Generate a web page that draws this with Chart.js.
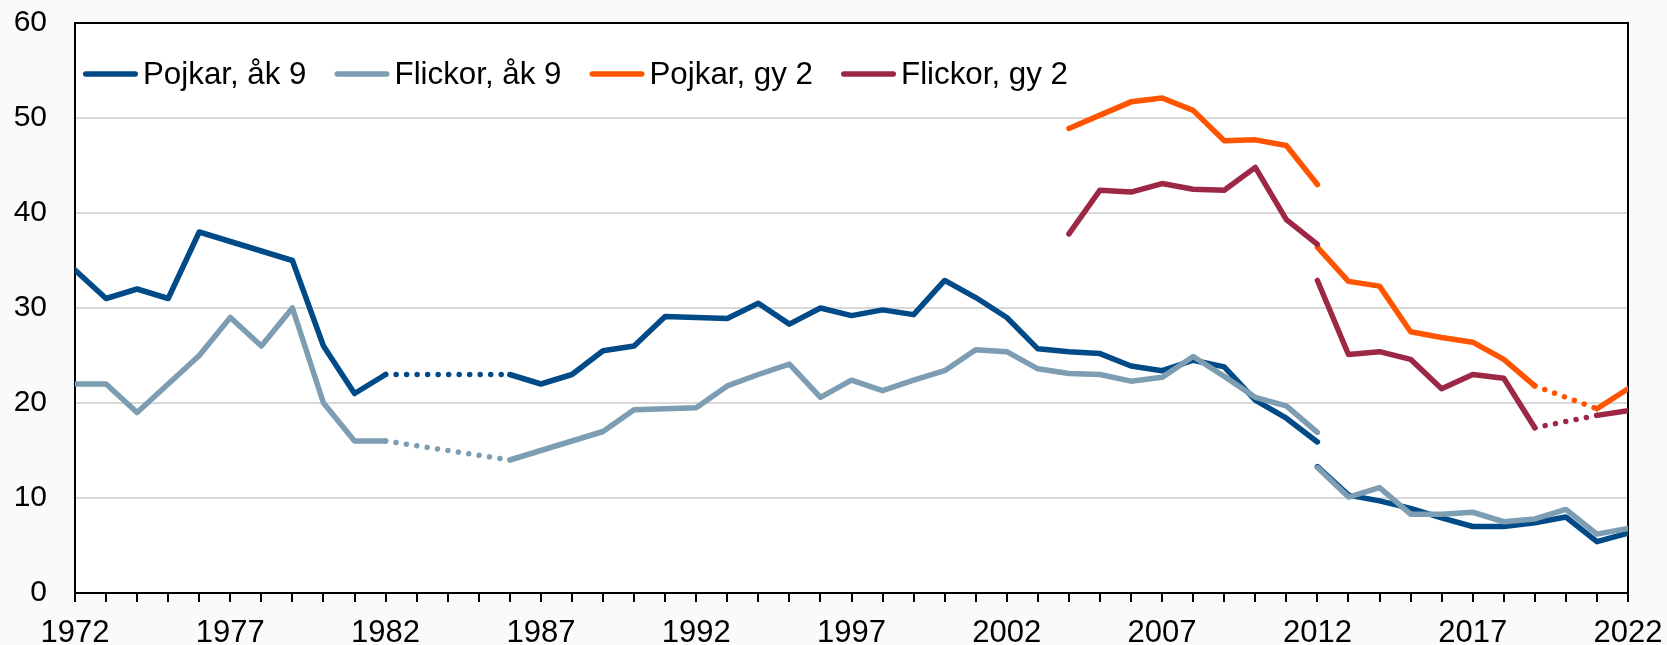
<!DOCTYPE html>
<html>
<head>
<meta charset="utf-8">
<script src="https://cdn.jsdelivr.net/npm/chart.js@4.4.0/dist/chart.umd.min.js"></script>
<style>
  html, body { margin: 0; padding: 0; background: #fafafa; }
  #wrap { width: 1667px; height: 645px; }
</style>
</head>
<body>
<div id="wrap"><canvas id="chart" width="1667" height="645"></canvas></div>
<script>
// years
var yearsOld = [];
for (var y = 1972; y <= 2012; y++) yearsOld.push(y);
var yearsGyOld = [2004, 2005, 2006, 2007, 2008, 2009, 2010, 2011, 2012];
var yearsNew = [2012, 2013, 2014, 2015, 2016, 2017, 2018, 2019, 2020, 2021, 2022];

// åk 9, 1972-2012 (null = no survey, bridged with dots)
var pojkarAk9Old = [34, 31, 32, 31, 38, 37, 36, 35, 26, 21, 23, null, null, null, 23, 22, 23, 25.5, 26, 29.1,
	29, 28.9, 30.5, 28.3, 30, 29.2, 29.8, 29.3, 32.9, 31.1, 29, 25.7, 25.4, 25.2, 23.9, 23.4, 24.5, 23.8, 20.3, 18.4, 15.9];
var flickorAk9Old = [22, 22, 19, 22, 25, 29, 26, 30, 20, 16, 16, null, null, null, 14, 15, 16, 17, 19.3, 19.4,
	19.5, 21.8, 23, 24.1, 20.6, 22.4, 21.3, 22.4, 23.4, 25.6, 25.4, 23.6, 23.1, 23, 22.3, 22.7, 24.9, 22.8, 20.6, 19.7, 16.9];
// åk 9, 2012-2022 (new method)
var pojkarAk9New = [13.3, 10.3, 9.7, 8.9, 7.9, 7.0, 7.0, 7.4, 8.0, 5.4, 6.3];
var flickorAk9New = [13.2, 10.1, 11.1, 8.3, 8.3, 8.5, 7.5, 7.8, 8.8, 6.2, 6.8];
// gy 2
var pojkarGy2Old = [48.9, 50.3, 51.7, 52.1, 50.8, 47.6, 47.7, 47.1, 43.0];
var flickorGy2Old = [37.8, 42.4, 42.2, 43.1, 42.5, 42.4, 44.8, 39.3, 36.7];
var pojkarGy2New = [36.4, 32.8, 32.3, 27.5, 26.9, 26.4, 24.6, 21.8, null, 19.4, 21.5];
var flickorGy2New = [32.9, 25.1, 25.4, 24.6, 21.5, 23.0, 22.6, 17.4, null, 18.7, 19.2];

var yTicks = [0, 10, 20, 30, 40, 50, 60];
var xLabelYears = [1972, 1977, 1982, 1987, 1992, 1997, 2002, 2007, 2012, 2017, 2022];

var colors = {
	pojkarAk9: "#004a87",
	flickorAk9: "#7c9db2",
	pojkarGy2: "#ff5500",
	flickorGy2: "#9c2846"
};

function points(years, values) {
	return years.map(function (yr, i) { return { x: yr, y: values[i] }; });
}

function line(label, color, years, values, order) {
	return {
		label: label,
		data: points(years, values),
		borderColor: color,
		backgroundColor: color,
		borderWidth: 5.5,
		pointRadius: 0,
		tension: 0,
		borderCapStyle: 'round',
		borderJoinStyle: 'round',
		spanGaps: true,
		order: order,
		segment: {
			// dotted where the line bridges missing years
			borderDash: function (ctx) {
				var i = ctx.p1DataIndex;
				return i > 0 && values[i - 1] === null ? [0.01, 10.5] : undefined;
			}
		}
	};
}

var legendItems = [
	{ text: "Pojkar, åk 9", color: colors.pojkarAk9 },
	{ text: "Flickor, åk 9", color: colors.flickorAk9 },
	{ text: "Pojkar, gy 2", color: colors.pojkarGy2 },
	{ text: "Flickor, gy 2", color: colors.flickorGy2 }
];

var framePlugin = {
	id: 'frame',
	beforeDraw: function (chart) {
		var c = chart.ctx, a = chart.chartArea;
		c.save();
		c.fillStyle = '#fafafa';
		c.fillRect(0, 0, chart.width, chart.height);
		c.fillStyle = '#ffffff';
		c.fillRect(a.left, a.top, a.right - a.left, a.bottom - a.top);
		c.restore();
	},
	beforeDatasetsDraw: function (chart) {
		var c = chart.ctx, a = chart.chartArea;
		c.save();
		c.strokeStyle = '#000';
		c.lineWidth = 2;
		c.beginPath();
		c.moveTo(a.left, a.top);
		c.lineTo(a.right, a.top);
		c.lineTo(a.right, a.bottom);
		c.stroke();
		c.restore();
	},
	afterDraw: function (chart) {
		var c = chart.ctx;
		var x = 83, yLine = 74, yText = 84;
		c.save();
		c.font = '31.3px "Liberation Sans", Arial, sans-serif';
		c.textBaseline = 'alphabetic';
		legendItems.forEach(function (it) {
			c.strokeStyle = it.color;
			c.lineWidth = 5.5;
			c.lineCap = 'round';
			c.beginPath();
			c.moveTo(x + 2.75, yLine);
			c.lineTo(x + 52.25, yLine);
			c.stroke();
			x += 60;
			c.fillStyle = '#000';
			c.fillText(it.text, x, yText);
			x += c.measureText(it.text).width + 28;
		});
		c.restore();
	}
};

Chart.defaults.font.family = '"Liberation Sans", Arial, sans-serif';
Chart.defaults.color = '#000';

var config = {
	type: 'line',
	data: {
		datasets: [
			line("Pojkar, åk 9", colors.pojkarAk9, yearsOld, pojkarAk9Old, 8),
			line("Pojkar, åk 9 (ny)", colors.pojkarAk9, yearsNew, pojkarAk9New, 7),
			line("Flickor, åk 9", colors.flickorAk9, yearsOld, flickorAk9Old, 6),
			line("Flickor, åk 9 (ny)", colors.flickorAk9, yearsNew, flickorAk9New, 5),
			line("Pojkar, gy 2", colors.pojkarGy2, yearsGyOld, pojkarGy2Old, 4),
			line("Pojkar, gy 2 (ny)", colors.pojkarGy2, yearsNew, pojkarGy2New, 3),
			line("Flickor, gy 2", colors.flickorGy2, yearsGyOld, flickorGy2Old, 2),
			line("Flickor, gy 2 (ny)", colors.flickorGy2, yearsNew, flickorGy2New, 1)
		]
	},
	options: {
		responsive: false,
		animation: false,
		events: [],
		layout: { padding: { top: 23, right: 39, left: 0, bottom: 0 } },
		plugins: {
			legend: { display: false },
			tooltip: { enabled: false }
		},
		scales: {
			x: {
				type: 'linear',
				min: 1972,
				max: 2022,
				afterFit: function (s) {
					s.height = 52;
					s.paddingLeft = 0;
					s.paddingRight = 0;
				},
				ticks: {
					stepSize: 1,
					autoSkip: false,
					maxRotation: 0,
					padding: 13,
					font: { size: 31 },
					callback: function (v) { return xLabelYears.indexOf(v) >= 0 ? String(v) : ''; }
				},
				grid: { drawOnChartArea: false, drawTicks: true, tickLength: 9, color: '#000', lineWidth: 2 },
				border: { display: true, color: '#000', width: 2 }
			},
			y: {
				min: yTicks[0],
				max: yTicks[yTicks.length - 1],
				afterFit: function (s) {
					s.width = 75;
					s.paddingTop = 0;
					s.paddingBottom = 0;
				},
				ticks: {
					stepSize: 10,
					padding: 28,
					font: { size: 30 }
				},
				grid: { color: '#d9d9d9', lineWidth: 2, drawTicks: false },
				border: { display: true, color: '#000', width: 2 }
			}
		}
	},
	plugins: [framePlugin]
};

var ctx = document.getElementById("chart").getContext("2d");
window.myLine = new Chart(ctx, config);
</script>
</body>
</html>
